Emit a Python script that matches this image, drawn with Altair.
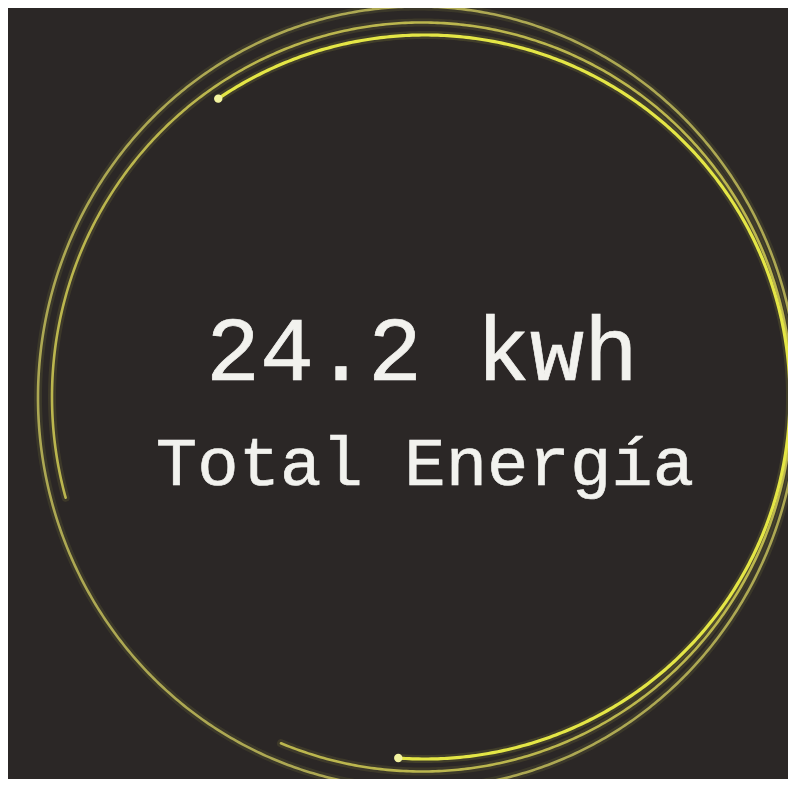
import altair as alt
import pandas as pd

# ---------------- data ----------------
total_kwh = 24.2
unit = "kwh"
caption = "Total Energía"

# decorative rings (ellipse centre / radii in page px, arc span in degrees clockwise from 12 o'clock)
arc_names = ["outer", "middle", "bright"]
arc_cx = [418, 422, 425]
arc_cy = [397.5, 397, 397]
arc_rx = [380, 370, 365]
arc_ry = [391, 374.5, 362]
arc_start = [0, -105.6, -34.5]
arc_end = [360, 202.4, 184.2]

arcs = pd.DataFrame({
    "name": arc_names, "cx": arc_cx, "cy": arc_cy,
    "rx": arc_rx, "ry": arc_ry, "start": arc_start, "end": arc_end,
})

M = 8                      # page margin
W, H = 796 - 2 * M, 787 - 2 * M
BG = "#2b2726"
xs = alt.Scale(domain=[M, M + W], nice=False, zero=False)
ys = alt.Scale(domain=[M, M + H], nice=False, zero=False, reverse=True)

px_expr = "datum.cx + datum.rx * sin(datum.theta * PI / 180)"
py_expr = "datum.cy - datum.ry * cos(datum.theta * PI / 180)"


def arc_layer(name, color, width, opacity):
    return (
        alt.Chart(arcs)
        .transform_filter(alt.datum.name == name)
        .transform_calculate(theta="sequence(datum.start, datum.end + 0.25, 0.5)")
        .transform_flatten(["theta"])
        .transform_calculate(px=px_expr, py=py_expr)
        .mark_line(color=color, strokeWidth=width, opacity=opacity, strokeCap="round")
        .encode(
            x=alt.X("px:Q", scale=xs, axis=None),
            y=alt.Y("py:Q", scale=ys, axis=None),
            order="theta:Q",
        )
    )


layers = []
# soft glow
for nm, col in [("outer", "#b8b44e"), ("middle", "#c4c04c"), ("bright", "#e6e84a")]:
    layers.append(arc_layer(nm, col, 8, 0.12))
# strokes
layers.append(arc_layer("outer", "#b3ae55", 2.6, 0.95))
layers.append(arc_layer("middle", "#c2bd50", 2.6, 0.95))
layers.append(arc_layer("bright", "#e4e646", 3.2, 1.0))

dots = (
    alt.Chart(arcs)
    .transform_filter(alt.datum.name == "bright")
    .transform_fold(["start", "end"], as_=["which", "theta"])
    .transform_calculate(px=px_expr, py=py_expr)
    .mark_circle(size=70, color="#f3f3a0", opacity=1)
    .encode(x=alt.X("px:Q", scale=xs, axis=None), y=alt.Y("py:Q", scale=ys, axis=None))
)
layers.append(dots)

value_df = pd.DataFrame({"label": [f"{total_kwh} {unit}"]})
caption_df = pd.DataFrame({"label": [caption]})

TXT = "#f2f2ee"
value_text = (
    alt.Chart(value_df)
    .mark_text(font="Liberation Mono", fontSize=90, color=TXT, stroke=TXT, strokeWidth=0.7,
               align="center", baseline="alphabetic")
    .encode(text="label:N", x=alt.value(422 - M), y=alt.value(380 - M))
)
caption_text = (
    alt.Chart(caption_df)
    .mark_text(font="Liberation Mono", fontSize=69, color=TXT, stroke=TXT, strokeWidth=0.6,
               align="center", baseline="alphabetic")
    .encode(text="label:N", x=alt.value(425 - M), y=alt.value(485 - M))
)
layers += [value_text, caption_text]

chart = (
    alt.layer(*layers)
    .properties(
        width=W, height=H, padding=0,
        autosize=alt.AutoSizeParams(type="none"),
        background=BG,
    )
    .configure_view(strokeWidth=0)
)

chart.save("out.html", embed_options={"renderer": "svg", "actions": False})
